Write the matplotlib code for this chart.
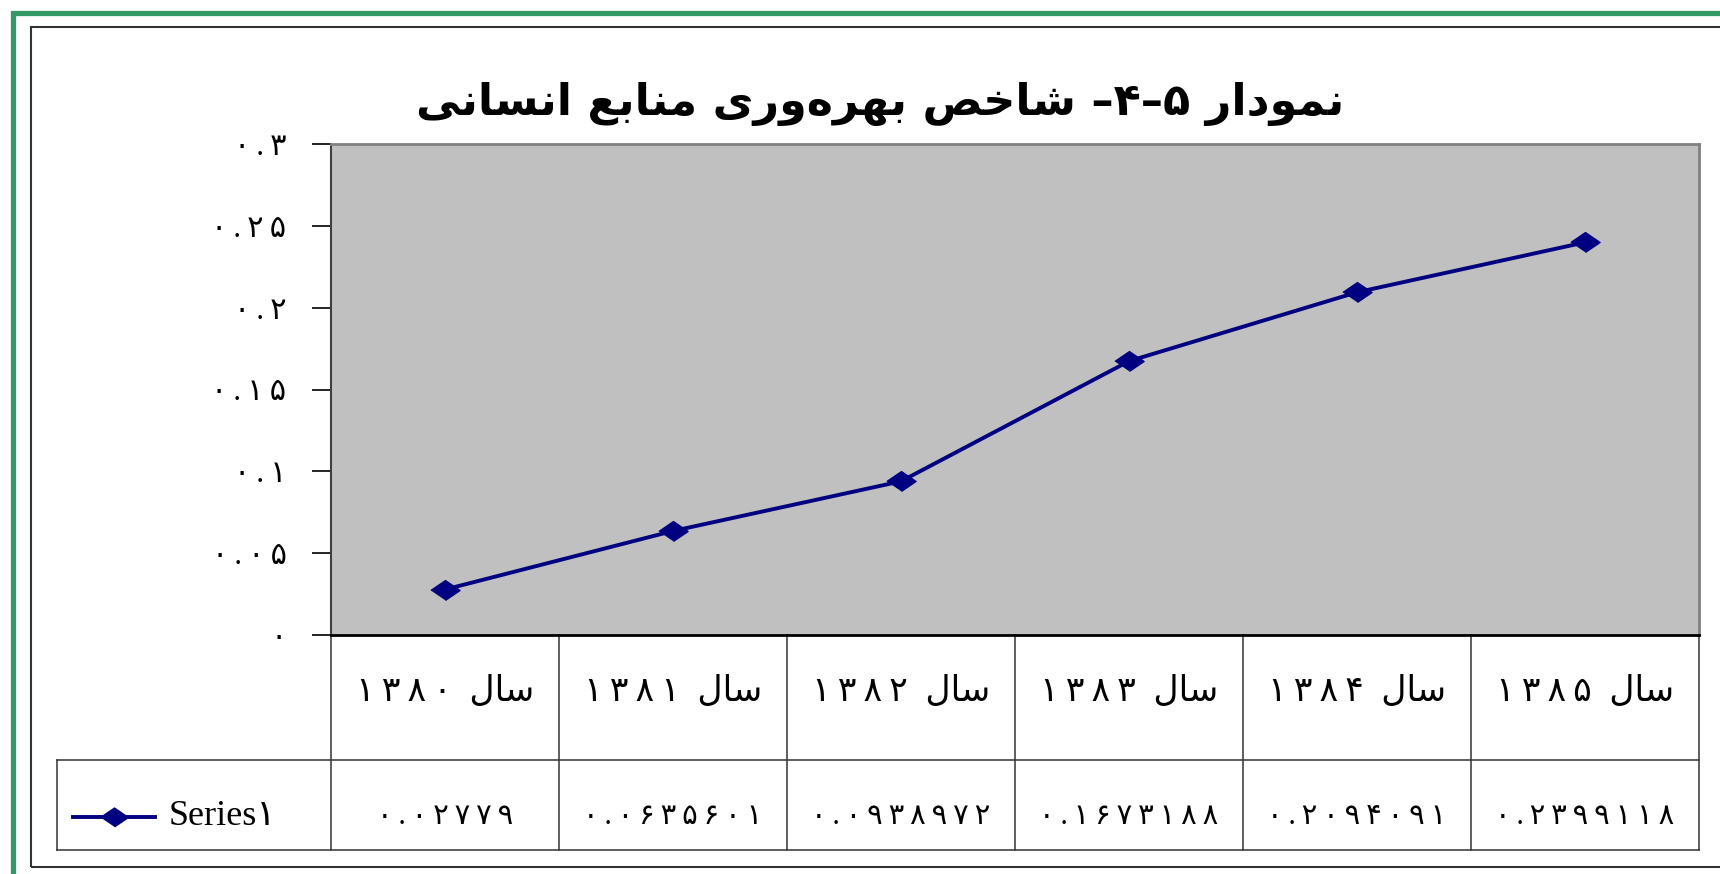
import matplotlib
matplotlib.use('Agg')
import matplotlib.pyplot as plt
import numpy as np
from matplotlib.patches import Rectangle
from matplotlib.lines import Line2D
import matplotlib.ticker as mtick

# ---------------- data ----------------
years = ['۱۳۸۰', '۱۳۸۱', '۱۳۸۲', '۱۳۸۳', '۱۳۸۴', '۱۳۸۵']
values = [0.02779, 0.0635601, 0.0938972, 0.1673188, 0.2094091, 0.2399118]
y_ticks = [0, 0.05, 0.1, 0.15, 0.2, 0.25, 0.3]
title_words = ['نمودار', '–۴–۵', 'شاخص', 'بهره‌وری', 'منابع', 'انسانی']
year_word = 'سال'
series_name = 'Series۱'

# ---------------- minimal arabic shaping (no bidi lib available) ----------------
FORMS = {
    'ا': ('\uFE8D', '\uFE8E', None, None),
    'ب': ('\uFE8F', '\uFE90', '\uFE91', '\uFE92'),
    'خ': ('\uFEA5', '\uFEA6', '\uFEA7', '\uFEA8'),
    'د': ('\uFEA9', '\uFEAA', None, None),
    'ر': ('\uFEAD', '\uFEAE', None, None),
    'س': ('\uFEB1', '\uFEB2', '\uFEB3', '\uFEB4'),
    'ش': ('\uFEB5', '\uFEB6', '\uFEB7', '\uFEB8'),
    'ص': ('\uFEB9', '\uFEBA', '\uFEBB', '\uFEBC'),
    'ع': ('\uFEC9', '\uFECA', '\uFECB', '\uFECC'),
    'ل': ('\uFEDD', '\uFEDE', '\uFEDF', '\uFEE0'),
    'م': ('\uFEE1', '\uFEE2', '\uFEE3', '\uFEE4'),
    'ن': ('\uFEE5', '\uFEE6', '\uFEE7', '\uFEE8'),
    'ه': ('\uFEE9', '\uFEEA', '\uFEEB', '\uFEEC'),
    'و': ('\uFEED', '\uFEEE', None, None),
    'ی': ('\uFEEF', '\uFEF0', '\uFEF3', '\uFEF4'),
}


def shape_word(w):
    out = []
    for i, ch in enumerate(w):
        if ch not in FORMS:
            if ch != '\u200c':
                out.append(ch)
            continue
        prev = w[i - 1] if i > 0 else None
        nxt = w[i + 1] if i < len(w) - 1 else None
        j_prev = prev in FORMS and FORMS[prev][2] is not None
        j_next = nxt in FORMS and FORMS[ch][2] is not None
        iso, fin, ini, med = FORMS[ch]
        if j_prev and j_next:
            out.append(med)
        elif j_prev:
            out.append(fin)
        elif j_next:
            out.append(ini)
        else:
            out.append(iso)
    return ''.join(reversed(out))


def rtl(words, sep=' '):
    # words in logical order -> visual string
    res = []
    for w in words:
        if any(c in FORMS for c in w):
            res.append(shape_word(w))
        else:
            res.append(w)
    return sep.join(reversed(res))


fa_digits = str.maketrans('0123456789', '۰۱۲۳۴۵۶۷۸۹')


def fa_num(v):
    s = str(v) if v != 0 else '0'
    return '\u2009'.join(s.translate(fa_digits))


# ---------------- figure ----------------
fig = plt.figure(figsize=(17.2, 8.74), dpi=100)

# outer green and black frames
fig.add_artist(Rectangle((13 / 1720, -0.1), 1.2, 1 - 13 / 874 + 0.1, transform=fig.transFigure,
                         fill=False, edgecolor='#339966', lw=3.8))
fig.add_artist(Rectangle((31 / 1720, 1 - 867 / 874), 1.2, (867 - 27) / 874, transform=fig.transFigure,
                         fill=False, edgecolor='#333333', lw=1.5))

ax = fig.add_axes([331 / 1720, 1 - 635 / 874, (1699 - 331) / 1720, (635 - 144) / 874])
ax.set_facecolor('#C0C0C0')

x = np.arange(len(years))
diamond = [(-1, 0), (0, 0.68), (1, 0), (0, -0.68)]
ax.plot(x, values, color='#000080', lw=2.8, marker=diamond, markersize=21)

ax.set_xlim(-0.5, len(years) - 0.5)
ax.set_ylim(0, 0.3)
ax.set_yticks(y_ticks)
ax.yaxis.set_major_formatter(mtick.FuncFormatter(lambda v, p: fa_num(round(v, 2)) if v != 0 else '۰'))
ax.tick_params(axis='y', length=14, width=1.2, pad=18, labelsize=22, direction='out')
for lab in ax.get_yticklabels():
    lab.set_family(['Liberation Serif', 'DejaVu Sans'])
ax.set_xticks([])

for s in ['top', 'right']:
    ax.spines[s].set_color('#808080')
    ax.spines[s].set_linewidth(2)
ax.spines['left'].set_color('#404040')
ax.spines['left'].set_linewidth(1.5)
ax.spines['bottom'].set_color('black')
ax.spines['bottom'].set_linewidth(2)

# ---------------- data table under the axis ----------------
tr = ax.get_xaxis_transform()
row1, row2 = -0.2546, -0.4379
leg_left = -1.70
edges = np.arange(len(years) + 1) - 0.5
lc = '#333333'
for e in edges:
    ax.plot([e, e], [0, row2], color=lc, lw=1.1, transform=tr, clip_on=False)
ax.plot([leg_left, leg_left], [row1, row2], color=lc, lw=1.1, transform=tr, clip_on=False)
ax.plot([leg_left, edges[-1]], [row1, row1], color=lc, lw=1.1, transform=tr, clip_on=False)
ax.plot([leg_left, edges[-1]], [row2, row2], color=lc, lw=1.1, transform=tr, clip_on=False)

for i, yr in enumerate(years):
    ax.text(i, -0.118, rtl([year_word, '\u2009'.join(yr)], sep='  '), transform=tr,
            ha='center', va='center', fontsize=25, family=['Liberation Serif', 'DejaVu Sans'])
    ax.text(i, -0.37, fa_num(values[i]), transform=tr, ha='center', va='center',
            fontsize=21, family=['Liberation Serif', 'DejaVu Sans'])

# legend key in the table
ax.add_line(Line2D([-1.63, -1.27], [-0.37, -0.37], transform=tr, color='#000080', lw=2.8,
                   clip_on=False))
ax.add_line(Line2D([-1.45], [-0.37], transform=tr, color='#000080', marker=diamond,
                   markersize=20, lw=0, clip_on=False))
ax.text(-1.21, -0.37, series_name, transform=tr, ha='left', va='center', fontsize=26,
        family=['Liberation Serif', 'DejaVu Sans'])

# title
fig.text(880 / 1720, 1 - 104 / 874, rtl(title_words), ha='center', va='center',
         fontsize=32, fontweight='bold', family='DejaVu Sans')

fig.savefig('out.png', dpi=100)
